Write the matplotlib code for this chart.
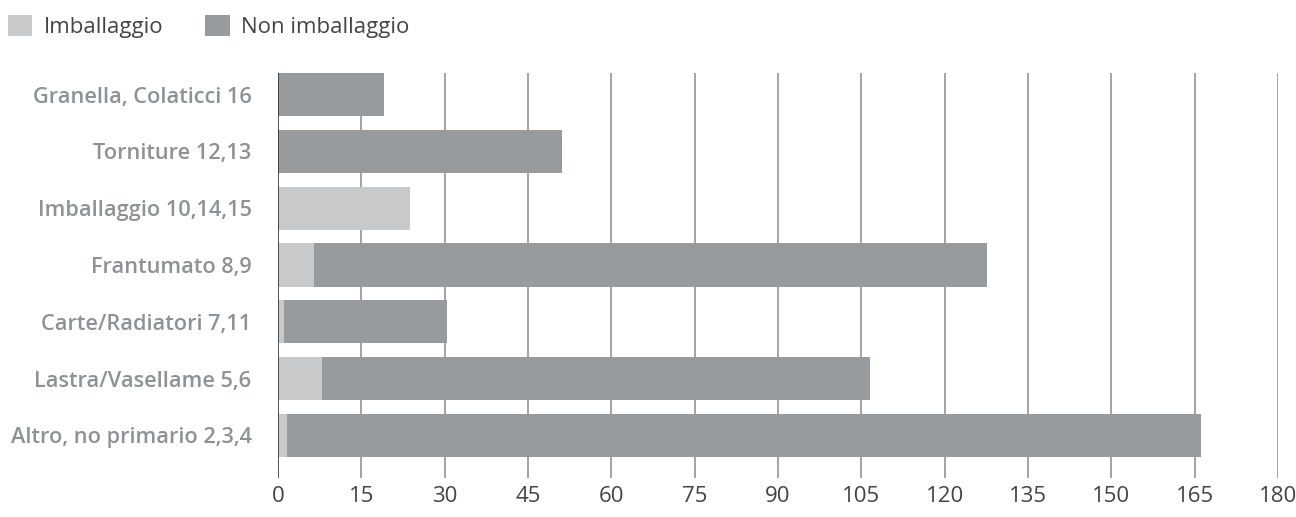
import matplotlib.pyplot as plt
import numpy as np

# categories listed bottom to top
categories = ['Altro, no primario 2,3,4', 'Lastra/Vasellame 5,6', 'Carte/Radiatori 7,11',
              'Frantumato 8,9', 'Imballaggio 10,14,15', 'Torniture 12,13', 'Granella, Colaticci 16']
imballaggio = [1.6, 8.0, 1.0, 6.4, 23.7, 0, 0]
non_imballaggio = [164.5, 98.5, 29.5, 121.3, 0, 51.1, 19.0]
xticks = list(range(0, 181, 15))

light = '#c8c9cb'
dark = '#979b9d'

plt.rcParams['font.family'] = ['Open Sans', 'DejaVu Sans']

fig = plt.figure(figsize=(12.96, 5.17), dpi=100)
ax = fig.add_axes([0.2145, 0.0754, 0.7716, 0.7834])

y = np.arange(len(categories))
h = 0.757
ax.barh(y, imballaggio, height=h, color=light, label='Imballaggio', zorder=2)
ax.barh(y, non_imballaggio, left=imballaggio, height=h, color=dark, label='Non imballaggio', zorder=2)

ax.set_xlim(0, 180)
ax.set_ylim(-0.75, 6.38)
ax.set_xticks(xticks)
ax.set_yticks(y)
ax.set_yticklabels(categories, fontweight='semibold')
for v in xticks[1:]:
    ax.axvline(v, color='#8a8a8a', lw=1.1, zorder=1)
ax.axvline(0, color='#333333', lw=1.2, zorder=3)

for s in ax.spines.values():
    s.set_visible(False)
ax.tick_params(axis='both', length=0)
ax.tick_params(axis='y', pad=19, labelsize=15.7, labelcolor='#8e9294')
ax.tick_params(axis='x', pad=6, labelsize=16, labelcolor='#444444')

fig.legend(loc='upper left', bbox_to_anchor=(8 / 1296, 1 - 15 / 517), ncol=2, frameon=False,
           fontsize=16, labelcolor='#444444', handlelength=1.1, handleheight=1.1,
           handletextpad=0.5, columnspacing=1.9, borderaxespad=0, borderpad=0)

fig.savefig('out.png', dpi=100)
